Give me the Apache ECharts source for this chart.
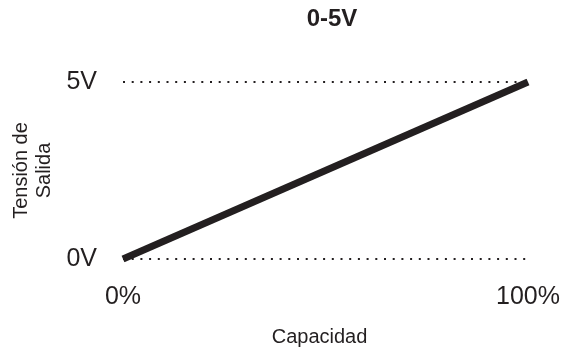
<!DOCTYPE html>
<html><head><meta charset="utf-8">
<script src="https://cdn.jsdelivr.net/npm/echarts@6/dist/echarts.min.js"></script>
<style>html,body{margin:0;padding:0;background:#fff}#c{width:571px;height:352px}</style>
</head><body><div id="c"></div>
<script>
const title = '0-5V';
const xName = 'Capacidad';
const yName = 'Tensión de\nSalida';
const capacity = [0, 100];
const voltage = [0, 5];
const xTickLabels = {0: '0%', 100: '100%'};
const yTickLabels = {0: '0V', 5: '5V'};

const chart = echarts.init(document.getElementById('c'));
const font = '"Liberation Sans", Arial, sans-serif';
chart.setOption({
  animation: false,
  backgroundColor: '#fff',
  title: {text: title, left: 327, top: 2, textAlign: 'center',
    textStyle: {fontFamily: font, fontSize: 24, fontWeight: 'bold', color: '#231f20'}},
  grid: {left: 123, right: 43, top: 82, bottom: 93, outerBoundsMode: 'none', containLabel: false},
  xAxis: {type: 'value', min: 0, max: 100, interval: 100,
    name: xName, nameLocation: 'middle', nameGap: 68,
    nameTextStyle: {fontFamily: font, fontSize: 20, color: '#231f20', padding: [0, 12, 0, 0]},
    axisLine: {show: false}, axisTick: {show: false}, splitLine: {show: false},
    axisLabel: {margin: 26, fontFamily: font, fontSize: 25, color: '#231f20',
      formatter: v => xTickLabels[v] ?? ''}},
  yAxis: {type: 'value', min: 0, max: 5, interval: 5,
    name: yName, nameLocation: 'middle', nameGap: 65, nameRotate: 90,
    nameTextStyle: {fontFamily: font, fontSize: 20, color: '#231f20', lineHeight: 23},
    axisLine: {show: false}, axisTick: {show: false},
    splitLine: {show: true, lineStyle: {color: '#231f20', width: 2, type: [2, 6.7]}},
    axisLabel: {margin: 26, fontFamily: font, fontSize: 25, color: '#231f20',
      formatter: v => yTickLabels[v] ?? ''}},
  series: [{type: 'line', data: capacity.map((c, i) => [c, voltage[i]]),
    showSymbol: false, symbol: 'none',
    lineStyle: {color: '#231f20', width: 7, cap: 'butt'}}]
});
</script></body></html>
